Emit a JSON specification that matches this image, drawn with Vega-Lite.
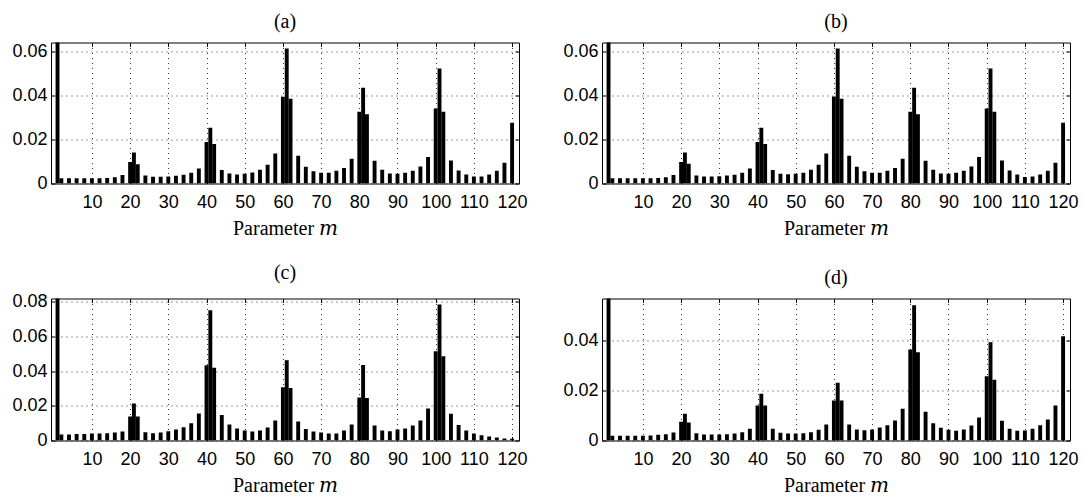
{
  "$schema": "https://vega.github.io/schema/vega-lite/v6.json",
  "background": "white",
  "padding": {"left": 11, "top": 11.5, "right": 5, "bottom": 5},
  "columns": 2,
  "spacing": {"row": 23, "column": 34},
  "config": {
    "view": {"stroke": "black", "strokeWidth": 1},
    "title": {"font": "Liberation Serif", "fontSize": 20, "fontWeight": "normal", "color": "black", "offset": 10, "frame": "group", "anchor": "middle"},
    "axis": {
      "labelFont": "Liberation Sans", "labelFontSize": 18, "labelColor": "black",
      "titleFont": "Liberation Serif, DejaVu Serif", "titleFontSize": 20, "titleFontWeight": "normal", "titleColor": "black",
      "domain": false, "tickColor": "black", "tickSize": -4, "labelPadding": 8,
      "gridColor": "#333", "gridDash": [1, 4], "gridWidth": 1
    },
    "axisX": {"labelPadding": 13.5, "titlePadding": 7}
  },
  "datasets": {
    "a": [
      {"m": 1, "v": 1}, {"m": 2, "v": 0.0024}, {"m": 4, "v": 0.0024}, {"m": 6, "v": 0.0024}, {"m": 8, "v": 0.0024}, {"m": 10, "v": 0.0024}, {"m": 12, "v": 0.0024}, {"m": 14, "v": 0.0025}, {"m": 16, "v": 0.0028}, {"m": 18, "v": 0.0039},
      {"m": 20, "v": 0.0098}, {"m": 21, "v": 0.0141}, {"m": 22, "v": 0.0088}, {"m": 24, "v": 0.0036}, {"m": 26, "v": 0.0031}, {"m": 28, "v": 0.0031}, {"m": 30, "v": 0.0032}, {"m": 32, "v": 0.0035}, {"m": 34, "v": 0.004}, {"m": 36, "v": 0.0049}, {"m": 38, "v": 0.0068},
      {"m": 40, "v": 0.0189}, {"m": 41, "v": 0.0253}, {"m": 42, "v": 0.018}, {"m": 44, "v": 0.0061}, {"m": 46, "v": 0.0045}, {"m": 48, "v": 0.0041}, {"m": 50, "v": 0.0044}, {"m": 52, "v": 0.005}, {"m": 54, "v": 0.0062}, {"m": 56, "v": 0.0085}, {"m": 58, "v": 0.0136},
      {"m": 60, "v": 0.0394}, {"m": 61, "v": 0.0614}, {"m": 62, "v": 0.0385}, {"m": 64, "v": 0.0126}, {"m": 66, "v": 0.0076}, {"m": 68, "v": 0.0056}, {"m": 70, "v": 0.0049}, {"m": 72, "v": 0.0049}, {"m": 74, "v": 0.0058}, {"m": 76, "v": 0.0071}, {"m": 78, "v": 0.0112},
      {"m": 80, "v": 0.0326}, {"m": 81, "v": 0.0435}, {"m": 82, "v": 0.0315}, {"m": 84, "v": 0.0103}, {"m": 86, "v": 0.0062}, {"m": 88, "v": 0.0045}, {"m": 90, "v": 0.0044}, {"m": 92, "v": 0.0049}, {"m": 94, "v": 0.0058}, {"m": 96, "v": 0.0077}, {"m": 98, "v": 0.0121},
      {"m": 100, "v": 0.0341}, {"m": 101, "v": 0.0523}, {"m": 102, "v": 0.0326}, {"m": 104, "v": 0.0105}, {"m": 106, "v": 0.0059}, {"m": 108, "v": 0.0041}, {"m": 110, "v": 0.0032}, {"m": 112, "v": 0.0032}, {"m": 114, "v": 0.0041}, {"m": 116, "v": 0.0058}, {"m": 118, "v": 0.0094}, {"m": 120, "v": 0.0276}
    ],
    "b": [
      {"m": 1, "v": 1}, {"m": 2, "v": 0.0024}, {"m": 4, "v": 0.0024}, {"m": 6, "v": 0.0024}, {"m": 8, "v": 0.0024}, {"m": 10, "v": 0.0024}, {"m": 12, "v": 0.0024}, {"m": 14, "v": 0.0025}, {"m": 16, "v": 0.0028}, {"m": 18, "v": 0.0039},
      {"m": 20, "v": 0.0098}, {"m": 21, "v": 0.0141}, {"m": 22, "v": 0.009}, {"m": 24, "v": 0.0036}, {"m": 26, "v": 0.0032}, {"m": 28, "v": 0.0032}, {"m": 30, "v": 0.0033}, {"m": 32, "v": 0.0036}, {"m": 34, "v": 0.004}, {"m": 36, "v": 0.0049}, {"m": 38, "v": 0.0068},
      {"m": 40, "v": 0.0189}, {"m": 41, "v": 0.0253}, {"m": 42, "v": 0.018}, {"m": 44, "v": 0.0061}, {"m": 46, "v": 0.0044}, {"m": 48, "v": 0.0042}, {"m": 50, "v": 0.0044}, {"m": 52, "v": 0.0049}, {"m": 54, "v": 0.0062}, {"m": 56, "v": 0.0085}, {"m": 58, "v": 0.0136},
      {"m": 60, "v": 0.0395}, {"m": 61, "v": 0.0614}, {"m": 62, "v": 0.0385}, {"m": 64, "v": 0.0126}, {"m": 66, "v": 0.0076}, {"m": 68, "v": 0.0056}, {"m": 70, "v": 0.0049}, {"m": 72, "v": 0.0049}, {"m": 74, "v": 0.0058}, {"m": 76, "v": 0.0071}, {"m": 78, "v": 0.0112},
      {"m": 80, "v": 0.0326}, {"m": 81, "v": 0.0435}, {"m": 82, "v": 0.0315}, {"m": 84, "v": 0.0103}, {"m": 86, "v": 0.0062}, {"m": 88, "v": 0.0045}, {"m": 90, "v": 0.0044}, {"m": 92, "v": 0.0049}, {"m": 94, "v": 0.0058}, {"m": 96, "v": 0.0077}, {"m": 98, "v": 0.0121},
      {"m": 100, "v": 0.0341}, {"m": 101, "v": 0.0523}, {"m": 102, "v": 0.0326}, {"m": 104, "v": 0.0105}, {"m": 106, "v": 0.0059}, {"m": 108, "v": 0.0041}, {"m": 110, "v": 0.0030}, {"m": 112, "v": 0.0032}, {"m": 114, "v": 0.0041}, {"m": 116, "v": 0.0058}, {"m": 118, "v": 0.0094}, {"m": 120, "v": 0.0276}
    ],
    "c": [
      {"m": 1, "v": 1}, {"m": 2, "v": 0.0035}, {"m": 4, "v": 0.0035}, {"m": 6, "v": 0.0037}, {"m": 8, "v": 0.0038}, {"m": 10, "v": 0.004}, {"m": 12, "v": 0.004}, {"m": 14, "v": 0.0042}, {"m": 16, "v": 0.0046}, {"m": 18, "v": 0.0052},
      {"m": 20, "v": 0.0139}, {"m": 21, "v": 0.0214}, {"m": 22, "v": 0.0139}, {"m": 24, "v": 0.0048}, {"m": 26, "v": 0.0042}, {"m": 28, "v": 0.0046}, {"m": 30, "v": 0.0054}, {"m": 32, "v": 0.0064}, {"m": 34, "v": 0.0077}, {"m": 36, "v": 0.01}, {"m": 38, "v": 0.0156},
      {"m": 40, "v": 0.0434}, {"m": 41, "v": 0.0752}, {"m": 42, "v": 0.042}, {"m": 44, "v": 0.0147}, {"m": 46, "v": 0.0093}, {"m": 48, "v": 0.0069}, {"m": 50, "v": 0.0058}, {"m": 52, "v": 0.0052}, {"m": 54, "v": 0.0058}, {"m": 56, "v": 0.0075}, {"m": 58, "v": 0.0116},
      {"m": 60, "v": 0.0308}, {"m": 61, "v": 0.0463}, {"m": 62, "v": 0.0303}, {"m": 64, "v": 0.011}, {"m": 66, "v": 0.0067}, {"m": 68, "v": 0.0052}, {"m": 70, "v": 0.0046}, {"m": 72, "v": 0.004}, {"m": 74, "v": 0.004}, {"m": 76, "v": 0.0058}, {"m": 78, "v": 0.0093},
      {"m": 80, "v": 0.0249}, {"m": 81, "v": 0.0436}, {"m": 82, "v": 0.0245}, {"m": 84, "v": 0.0087}, {"m": 86, "v": 0.0058}, {"m": 88, "v": 0.0054}, {"m": 90, "v": 0.0064}, {"m": 92, "v": 0.0069}, {"m": 94, "v": 0.0087}, {"m": 96, "v": 0.0116}, {"m": 98, "v": 0.0185},
      {"m": 100, "v": 0.0515}, {"m": 101, "v": 0.0785}, {"m": 102, "v": 0.0486}, {"m": 104, "v": 0.0154}, {"m": 106, "v": 0.0089}, {"m": 108, "v": 0.0058}, {"m": 110, "v": 0.004}, {"m": 112, "v": 0.0031}, {"m": 114, "v": 0.0023}, {"m": 116, "v": 0.0017}, {"m": 118, "v": 0.0012}, {"m": 120, "v": 0.001}
    ],
    "d": [
      {"m": 1, "v": 1}, {"m": 2, "v": 0.0019}, {"m": 4, "v": 0.0019}, {"m": 6, "v": 0.0019}, {"m": 8, "v": 0.0019}, {"m": 10, "v": 0.0019}, {"m": 12, "v": 0.002}, {"m": 14, "v": 0.0023}, {"m": 16, "v": 0.0025}, {"m": 18, "v": 0.0032},
      {"m": 20, "v": 0.0075}, {"m": 21, "v": 0.0107}, {"m": 22, "v": 0.0072}, {"m": 24, "v": 0.0029}, {"m": 26, "v": 0.0024}, {"m": 28, "v": 0.0024}, {"m": 30, "v": 0.0024}, {"m": 32, "v": 0.0025}, {"m": 34, "v": 0.0028}, {"m": 36, "v": 0.0033}, {"m": 38, "v": 0.0047},
      {"m": 40, "v": 0.014}, {"m": 41, "v": 0.0187}, {"m": 42, "v": 0.014}, {"m": 44, "v": 0.0047}, {"m": 46, "v": 0.0031}, {"m": 48, "v": 0.0028}, {"m": 50, "v": 0.0028}, {"m": 52, "v": 0.0029}, {"m": 54, "v": 0.0033}, {"m": 56, "v": 0.0043}, {"m": 58, "v": 0.0064},
      {"m": 60, "v": 0.016}, {"m": 61, "v": 0.0231}, {"m": 62, "v": 0.016}, {"m": 64, "v": 0.0064}, {"m": 66, "v": 0.0044}, {"m": 68, "v": 0.0041}, {"m": 70, "v": 0.0044}, {"m": 72, "v": 0.0052}, {"m": 74, "v": 0.0061}, {"m": 76, "v": 0.008}, {"m": 78, "v": 0.0127},
      {"m": 80, "v": 0.0363}, {"m": 81, "v": 0.054}, {"m": 82, "v": 0.0352}, {"m": 84, "v": 0.0115}, {"m": 86, "v": 0.0069}, {"m": 88, "v": 0.0051}, {"m": 90, "v": 0.0043}, {"m": 92, "v": 0.0039}, {"m": 94, "v": 0.0044}, {"m": 96, "v": 0.006}, {"m": 98, "v": 0.0092},
      {"m": 100, "v": 0.0257}, {"m": 101, "v": 0.0392}, {"m": 102, "v": 0.0243}, {"m": 104, "v": 0.0079}, {"m": 106, "v": 0.0047}, {"m": 108, "v": 0.0039}, {"m": 110, "v": 0.004}, {"m": 112, "v": 0.0047}, {"m": 114, "v": 0.0061}, {"m": 116, "v": 0.0084}, {"m": 118, "v": 0.014}, {"m": 120, "v": 0.0416}
    ]
  },
  "concat": [
    {
      "title": "(a)", "width": 468, "height": 141, "data": {"name": "a"},
      "layer": [
        {"mark": {"type": "bar", "color": "black", "size": 3.9, "clip": true, "orient": "vertical"},
         "encoding": {
           "x": {"field": "m", "type": "quantitative", "scale": {"domain": [0.6, 120.5], "nice": false, "zero": false}, "axis": {"orient": "bottom", "title": "Parameter 𝑚", "values": [10, 20, 30, 40, 50, 60, 70, 80, 90, 100, 110, 120], "grid": true}},
           "y": {"field": "v", "type": "quantitative", "scale": {"domain": [0, 0.0641], "nice": false}, "axis": {"orient": "left", "title": null, "values": [0, 0.02, 0.04, 0.06], "format": ".2~f", "grid": true}}
         }},
        {"mark": {"type": "point", "opacity": 0, "clip": true},
         "encoding": {
           "x": {"field": "m", "type": "quantitative", "axis": {"orient": "top", "title": null, "labels": false, "grid": false, "values": [10, 20, 30, 40, 50, 60, 70, 80, 90, 100, 110, 120]}},
           "y": {"field": "v", "type": "quantitative", "axis": {"orient": "right", "title": null, "labels": false, "grid": false, "values": [0, 0.02, 0.04, 0.06]}}
         }}
      ],
      "resolve": {"axis": {"x": "independent", "y": "independent"}}
    },
    {
      "title": "(b)", "width": 468, "height": 141, "data": {"name": "b"},
      "layer": [
        {"mark": {"type": "bar", "color": "black", "size": 3.9, "clip": true, "orient": "vertical"},
         "encoding": {
           "x": {"field": "m", "type": "quantitative", "scale": {"domain": [0.6, 120.5], "nice": false, "zero": false}, "axis": {"orient": "bottom", "title": "Parameter 𝑚", "values": [10, 20, 30, 40, 50, 60, 70, 80, 90, 100, 110, 120], "grid": true}},
           "y": {"field": "v", "type": "quantitative", "scale": {"domain": [0, 0.0641], "nice": false}, "axis": {"orient": "left", "title": null, "values": [0, 0.02, 0.04, 0.06], "format": ".2~f", "grid": true}}
         }},
        {"mark": {"type": "point", "opacity": 0, "clip": true},
         "encoding": {
           "x": {"field": "m", "type": "quantitative", "axis": {"orient": "top", "title": null, "labels": false, "grid": false, "values": [10, 20, 30, 40, 50, 60, 70, 80, 90, 100, 110, 120]}},
           "y": {"field": "v", "type": "quantitative", "axis": {"orient": "right", "title": null, "labels": false, "grid": false, "values": [0, 0.02, 0.04, 0.06]}}
         }}
      ],
      "resolve": {"axis": {"x": "independent", "y": "independent"}}
    },
    {
      "title": "(c)", "width": 468, "height": 142, "data": {"name": "c"},
      "layer": [
        {"mark": {"type": "bar", "color": "black", "size": 3.9, "clip": true, "orient": "vertical"},
         "encoding": {
           "x": {"field": "m", "type": "quantitative", "scale": {"domain": [0.6, 120.5], "nice": false, "zero": false}, "axis": {"orient": "bottom", "title": "Parameter 𝑚", "values": [10, 20, 30, 40, 50, 60, 70, 80, 90, 100, 110, 120], "grid": true}},
           "y": {"field": "v", "type": "quantitative", "scale": {"domain": [0, 0.082], "nice": false}, "axis": {"orient": "left", "title": null, "values": [0, 0.02, 0.04, 0.06, 0.08], "format": ".2~f", "grid": true}}
         }},
        {"mark": {"type": "point", "opacity": 0, "clip": true},
         "encoding": {
           "x": {"field": "m", "type": "quantitative", "axis": {"orient": "top", "title": null, "labels": false, "grid": false, "values": [10, 20, 30, 40, 50, 60, 70, 80, 90, 100, 110, 120]}},
           "y": {"field": "v", "type": "quantitative", "axis": {"orient": "right", "title": null, "labels": false, "grid": false, "values": [0, 0.02, 0.04, 0.06, 0.08]}}
         }}
      ],
      "resolve": {"axis": {"x": "independent", "y": "independent"}}
    },
    {
      "title": "(d)", "width": 468, "height": 142, "data": {"name": "d"},
      "layer": [
        {"mark": {"type": "bar", "color": "black", "size": 3.9, "clip": true, "orient": "vertical"},
         "encoding": {
           "x": {"field": "m", "type": "quantitative", "scale": {"domain": [0.6, 120.5], "nice": false, "zero": false}, "axis": {"orient": "bottom", "title": "Parameter 𝑚", "values": [10, 20, 30, 40, 50, 60, 70, 80, 90, 100, 110, 120], "grid": true}},
           "y": {"field": "v", "type": "quantitative", "scale": {"domain": [0, 0.0567], "nice": false}, "axis": {"orient": "left", "title": null, "values": [0, 0.02, 0.04], "format": ".2~f", "grid": true}}
         }},
        {"mark": {"type": "point", "opacity": 0, "clip": true},
         "encoding": {
           "x": {"field": "m", "type": "quantitative", "axis": {"orient": "top", "title": null, "labels": false, "grid": false, "values": [10, 20, 30, 40, 50, 60, 70, 80, 90, 100, 110, 120]}},
           "y": {"field": "v", "type": "quantitative", "axis": {"orient": "right", "title": null, "labels": false, "grid": false, "values": [0, 0.02, 0.04]}}
         }}
      ],
      "resolve": {"axis": {"x": "independent", "y": "independent"}}
    }
  ]
}
